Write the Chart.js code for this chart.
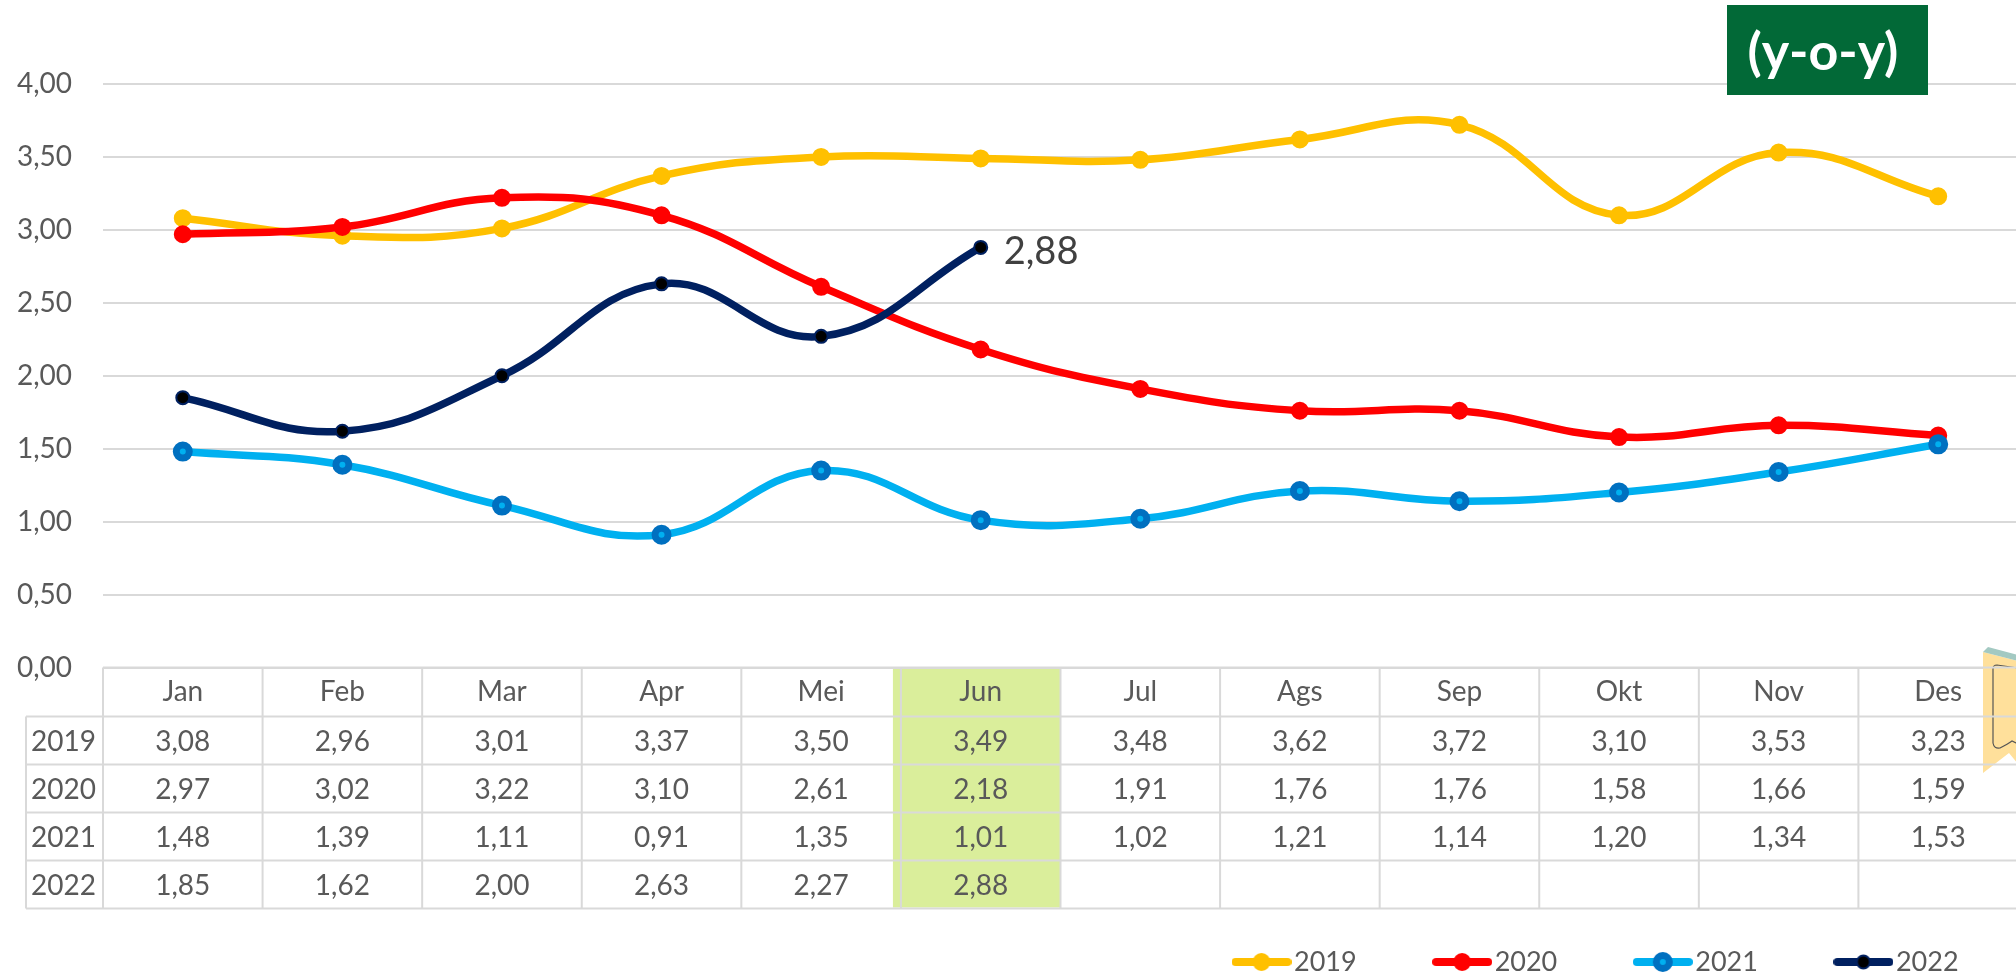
<!DOCTYPE html>
<html>
<head>
<meta charset="utf-8">
<style>html,body{margin:0;padding:0;background:#fff;overflow:hidden;width:2016px;height:976px}canvas{display:block}</style>
<script src="https://cdn.jsdelivr.net/npm/chart.js@4/dist/chart.umd.js"></script>
</head>
<body>
<canvas id="c" width="2018" height="976"></canvas>
<script>
const categories = ['Jan','Feb','Mar','Apr','Mei','Jun','Jul','Ags','Sep','Okt','Nov','Des'];
const yTickLabels = ['0,00','0,50','1,00','1,50','2,00','2,50','3,00','3,50','4,00'];
const years = ['2019','2020','2021','2022'];
const v2019 = [3.08,2.96,3.01,3.37,3.50,3.49,3.48,3.62,3.72,3.10,3.53,3.23];
const v2020 = [2.97,3.02,3.22,3.10,2.61,2.18,1.91,1.76,1.76,1.58,1.66,1.59];
const v2021 = [1.48,1.39,1.11,0.91,1.35,1.01,1.02,1.21,1.14,1.20,1.34,1.53];
const v2022 = [1.85,1.62,2.00,2.63,2.27,2.88,null,null,null,null,null,null];
const seriesValues = [v2019,v2020,v2021,v2022];
const highlightedMonth = 'Jun';
const badgeText = '(y-o-y)';

const FONT = 'Lato, Carlito, sans-serif';
const TXT = '#595959', GRID = '#D9D9D9';
const comma = v => v.toFixed(2).replace('.', ',');

const styles = [
  {line:'#FFC000', fill:'#FFC000', edge:'#FFC000', r:7.5, b:3, order:3},
  {line:'#FF0000', fill:'#FF0000', edge:'#FF0000', r:7.5, b:3, order:2},
  {line:'#00B0F0', fill:'#00B0F0', edge:'#0070C0', r:6.5, b:7, order:1},
  {line:'#002060', fill:'#000000', edge:'#002060', r:6.5, b:2, order:0}
];

function legendSwatch(s){
  const c = document.createElement('canvas');
  c.width = 60; c.height = 24;
  const x = c.getContext('2d');
  x.strokeStyle = s.line; x.lineWidth = 8; x.lineCap = 'round';
  x.beginPath(); x.moveTo(4,12); x.lineTo(56,12); x.stroke();
  x.beginPath(); x.arc(30,12,s.r,0,Math.PI*2);
  x.fillStyle = s.fill; x.fill();
  x.strokeStyle = s.edge; x.lineWidth = s.b; x.stroke();
  return c;
}

const tablePlugin = {
  id:'tablePlugin',
  beforeDraw(chart){
    const {ctx, chartArea:a, scales:{x}} = chart;
    const w = x.getPixelForValue(1) - x.getPixelForValue(0);
    const top = a.bottom, bot = top + 240;
    const i = categories.indexOf(highlightedMonth);
    const cx = x.getPixelForValue(i);
    ctx.save();
    ctx.fillStyle = '#DAEE9B';
    ctx.fillRect(cx - w/2 - 8, top, w + 8, bot - top);
    ctx.restore();
  },
  afterDraw(chart){
    const {ctx, chartArea:a, scales:{x,y}} = chart;
    const w = x.getPixelForValue(1) - x.getPixelForValue(0);
    const top = a.bottom, rowH = 48, head = 49;
    const left = a.left, far = 26;
    const bot = top + head + rowH*years.length;
    ctx.save();
    // ribbon ornament
    ctx.fillStyle = '#FFE09B';
    ctx.beginPath();
    ctx.moveTo(1983,652);ctx.lineTo(2018,661);ctx.lineTo(2018,764);ctx.lineTo(2009,753);ctx.lineTo(1983,773);ctx.closePath();ctx.fill();
    ctx.fillStyle = '#A3C9C2';
    ctx.beginPath();
    ctx.moveTo(1983,652);ctx.lineTo(1988,647);ctx.lineTo(2018,655);ctx.lineTo(2018,661);ctx.closePath();ctx.fill();
    ctx.strokeStyle = '#555'; ctx.lineWidth = 1.2;
    ctx.beginPath();
    ctx.moveTo(2018,668);ctx.lineTo(1997,665);ctx.quadraticCurveTo(1993,665,1993,669);ctx.lineTo(1993,743);
    ctx.quadraticCurveTo(1994,749,2000,748);ctx.quadraticCurveTo(2008,744,2012,741);ctx.lineTo(2018,744);ctx.stroke();
    // table grid
    ctx.strokeStyle = GRID; ctx.lineWidth = 2;
    ctx.beginPath();
    ctx.moveTo(left,top);ctx.lineTo(a.right,top);
    for(let r=0;r<=years.length;r++){const yy=top+head+rowH*r;ctx.moveTo(far,yy);ctx.lineTo(a.right,yy);}
    ctx.moveTo(far,top+head);ctx.lineTo(far,bot);
    for(let c=0;c<=categories.length;c++){const xx=x.getPixelForValue(0)-w/2+w*c;ctx.moveTo(xx,top);ctx.lineTo(xx,bot);}
    ctx.stroke();
    // table text
    ctx.fillStyle = TXT; ctx.font = '28px '+FONT; ctx.textAlign='center'; ctx.textBaseline='middle';
    years.forEach((yr,r)=>{
      const yy = top+head+rowH*r+rowH/2+1;
      ctx.fillText(yr,(far+left)/2-1,yy);
      seriesValues[r].forEach((v,c)=>{ if(v!==null) ctx.fillText(comma(v),x.getPixelForValue(c),yy); });
    });
    // last-point data label
    const m = chart.getDatasetMeta(3).data[5];
    ctx.fillStyle = '#404040'; ctx.font = '38px '+FONT; ctx.textAlign='left';
    ctx.fillText(comma(v2022[5]), m.x+23, m.y+4);
    // badge
    ctx.fillStyle = '#026937';
    ctx.fillRect(1727,5,201,90);
    ctx.fillStyle = '#FFFFFF'; ctx.font = 'bold 52px '+FONT; ctx.textAlign='center';
    ctx.fillText(badgeText, 1823, 53);
    ctx.restore();
  },
  afterLayout(chart){
    const l = chart.legend;
    l.left = 1156; l.right = 2400; l.top = 862;
  }
};

new Chart(document.getElementById('c'),{
  type:'line',
  data:{
    labels:categories,
    datasets:years.map((yr,i)=>({
      label:yr,
      data:seriesValues[i],
      borderColor:styles[i].line,
      backgroundColor:styles[i].line,
      borderWidth:7.5,
      borderCapStyle:'round',
      tension:0.42,
      fill:false,
      spanGaps:false,
      order:styles[i].order,
      clip:false,
      pointRadius:styles[i].r,
      pointBorderWidth:styles[i].b,
      pointBackgroundColor:styles[i].fill,
      pointBorderColor:styles[i].edge
    }))
  },
  options:{
    responsive:false,
    animation:false,
    devicePixelRatio:1,
    layout:{autoPadding:false,padding:{top:84,left:0,right:0,bottom:0}},
    scales:{
      x:{
        offset:true,
        border:{display:false},
        grid:{display:false,drawTicks:false},
        ticks:{color:TXT,font:{family:FONT,size:28},padding:8,maxRotation:0,autoSkip:false},
        afterFit(s){s.height=185;}
      },
      y:{
        min:0,max:4,
        border:{display:false},
        grid:{color:GRID,lineWidth:2,drawTicks:false},
        ticks:{stepSize:0.5,color:TXT,font:{family:FONT,size:28},padding:31,
          callback:(v)=>yTickLabels[Math.round(v*2)]},
        afterFit(s){s.width=103;}
      }
    },
    plugins:{
      tooltip:{enabled:false},
      legend:{
        position:'bottom',
        align:'start',
        labels:{
          color:TXT,
          font:{family:FONT,size:27},
          usePointStyle:true,
          pointStyleWidth:38,
          padding:86.5,
          generateLabels(chart){
            return chart.data.datasets.map((d,i)=>({
              text:d.label,
              pointStyle:legendSwatch(styles[i]),
              fontColor:TXT,
              datasetIndex:i,
              hidden:false
            }));
          }
        }
      }
    }
  },
  plugins:[tablePlugin]
});
</script>
</body>
</html>
